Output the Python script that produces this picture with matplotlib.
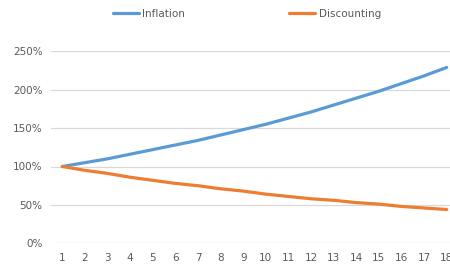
import matplotlib.pyplot as plt
from matplotlib.ticker import FuncFormatter

# Data
years = list(range(1, 19))
inflation = [1.00, 1.05, 1.10, 1.16, 1.22, 1.28, 1.34, 1.41, 1.48, 1.55,
             1.63, 1.71, 1.80, 1.89, 1.98, 2.08, 2.18, 2.29]
discounting = [1.00, 0.95, 0.91, 0.86, 0.82, 0.78, 0.75, 0.71, 0.68, 0.64,
               0.61, 0.58, 0.56, 0.53, 0.51, 0.48, 0.46, 0.44]
yticks = [0, 0.5, 1.0, 1.5, 2.0, 2.5]

W, H = 450, 267
fig = plt.figure(figsize=(W / 100, H / 100), dpi=100)
# plot area runs past the right edge of the picture, like the reference
left, right, top, bottom = 51, 458, 51.3, 243.3
ax = fig.add_axes([left / W, 1 - bottom / H, (right - left) / W, (bottom - top) / H])

ax.plot(years, inflation, color='#5B9BD5', lw=2.3, label='Inflation', solid_capstyle='round')
ax.plot(years, discounting, color='#ED7D31', lw=2.3, label='Discounting', solid_capstyle='round')

ax.set_xlim(0.5, 18.5)
ax.set_ylim(0, 2.5)
ax.set_xticks(years)
ax.set_yticks(yticks)
ax.yaxis.set_major_formatter(FuncFormatter(lambda v, p: f'{v * 100:.0f}%'))
ax.grid(axis='y', color='#D9D9D9', lw=0.9)
ax.set_axisbelow(True)
for s in ax.spines.values():
    s.set_visible(False)
ax.tick_params(length=0, labelsize=7.5, colors='#595959', pad=7)
ax.tick_params(axis='y', pad=6)
ax.patch.set_alpha(0)

leg = fig.legend(loc='center', bbox_to_anchor=(247 / W, 1 - 14 / H), ncol=2, frameon=False,
                 fontsize=7.5, handlelength=2.5, handletextpad=0.3, columnspacing=10)
for t in leg.get_texts():
    t.set_color('#595959')

fig.savefig('out.png', dpi=100)
